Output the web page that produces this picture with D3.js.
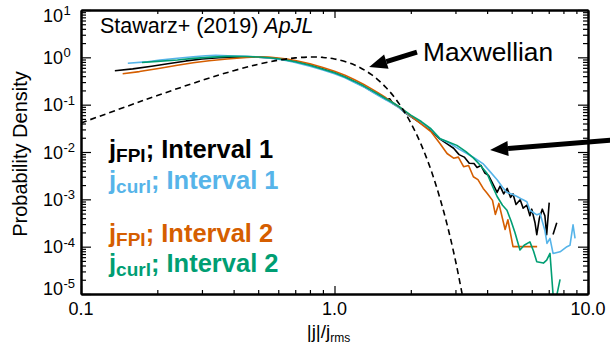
<!DOCTYPE html>
<html>
<head>
<meta charset="utf-8">
<script src="https://cdn.jsdelivr.net/npm/d3@7"></script>
<style>
  body { margin: 0; background: #fff; }
  svg { display: block; font-family: "Liberation Sans", Arial, Helvetica, sans-serif; }
</style>
</head>
<body>
<svg id="chart" width="610" height="349"></svg>
<script>
// ---- data ----
const xMajorTicks = [0.1, 1, 10];
const xTickLabels = ["0.1", "1.0", "10.0"];
const xMinorTicks = [0.2, 0.3, 0.4, 0.5, 0.6, 0.7, 0.8, 0.9, 2, 3, 4, 5, 6, 7, 8, 9];
const yExponents = [1, 0, -1, -2, -3, -4, -5];

// Maxwellian reference curve (dashed)
const maxwellX = [0.1, 0.15, 0.2, 0.3, 0.4, 0.5, 0.6, 0.7, 0.8, 0.9, 1.0, 1.2, 1.4, 1.6, 1.8, 2.0, 2.2, 2.4, 2.6, 2.8, 3.0, 3.2, 3.35];
const maxwellY = [0.041, 0.090, 0.156, 0.326, 0.522, 0.712, 0.870, 0.974, 1.016, 0.996, 0.925, 0.688, 0.430, 0.228, 0.104, 0.0411, 0.0141, 0.00422, 0.00110, 0.000254, 0.0000511, 0.0000090, 0.0000024];

// j_FPI; Interval 1
const fpi1X = [0.136, 0.16, 0.19, 0.22, 0.26, 0.3, 0.35, 0.4, 0.45, 0.5, 0.55, 0.6, 0.65, 0.7, 0.8, 0.9, 1.0, 1.1, 1.2, 1.3, 1.4, 1.5, 1.6, 1.65, 1.7, 1.8, 1.9, 2.0, 2.2, 2.4, 2.6, 2.8, 2.95, 3.1, 3.25, 3.4, 3.55, 3.65, 3.78, 3.92, 4.05, 4.2, 4.38, 4.5, 4.65, 4.8, 4.95, 5.06, 5.2, 5.4, 5.55, 5.74, 5.9, 6.0, 6.18, 6.28, 6.43, 6.6, 6.76, 6.87, 7.03, 7.15, 7.28, 7.53];
const fpi1Y = [0.52, 0.57, 0.65, 0.73, 0.84, 0.92, 0.98, 1.01, 1.02, 1.01, 0.98, 0.93, 0.87, 0.81, 0.68, 0.565, 0.47, 0.385, 0.305, 0.245, 0.195, 0.158, 0.128, 0.133, 0.106, 0.088, 0.067, 0.056, 0.040, 0.029, 0.019, 0.0145, 0.012, 0.0088, 0.0078, 0.0058, 0.0057, 0.0047, 0.0052, 0.0036, 0.0032, 0.0022, 0.0014, 0.0019, 0.0013, 0.0017, 0.0011, 0.0013, 0.00078, 0.00098, 0.00065, 0.00075, 0.00045, 0.00062, 0.00032, 0.00018, 0.0004, 0.00062, 0.00045, 0.00018, 0.00085, null, 0.00018, 0.00032];

// j_curl; Interval 1
const curl1X = [0.153, 0.18, 0.205, 0.24, 0.277, 0.31, 0.34, 0.38, 0.45, 0.5, 0.55, 0.6, 0.65, 0.7, 0.8, 0.9, 1.0, 1.1, 1.2, 1.3, 1.4, 1.5, 1.6, 1.7, 1.8, 1.9, 2.0, 2.2, 2.4, 2.61, 2.86, 3.1, 3.33, 3.6, 3.85, 4.1, 4.38, 4.6, 4.79, 5.0, 5.25, 5.5, 5.74, 5.9, 6.1, 6.29, 6.47, 6.76, 6.89, 7.08, 7.28, 7.76, 8.26, 8.49, 8.73, 8.89];
const curl1Y = [0.75, 0.80, 0.88, 0.96, 1.03, 1.08, 1.10, 1.08, 1.05, 1.01, 0.97, 0.91, 0.85, 0.78, 0.65, 0.54, 0.45, 0.37, 0.295, 0.24, 0.19, 0.152, 0.125, 0.104, 0.086, 0.068, 0.057, 0.041, 0.030, 0.019, 0.0151, 0.0115, 0.0093, 0.0072, 0.0057, 0.0039, 0.0026, 0.0018, 0.0014, 0.0013, 0.00115, 0.001, 0.00089, 0.00059, 0.00052, 0.00047, 0.0005, 0.00022, 0.000117, 0.00015, 0.000072, 0.000078, 0.0001, 0.000107, 0.00029, 0.00015];

// j_FPI; Interval 2
const fpi2X = [0.146, 0.17, 0.205, 0.24, 0.277, 0.32, 0.377, 0.45, 0.5, 0.55, 0.6, 0.65, 0.7, 0.8, 0.9, 1.0, 1.1, 1.2, 1.3, 1.4, 1.5, 1.6, 1.7, 1.8, 1.9, 2.0, 2.2, 2.4, 2.61, 2.78, 2.95, 3.08, 3.23, 3.38, 3.53, 3.68, 3.86, 4.0, 4.2, 4.31, 4.45, 4.71, 4.83, 5.06, 5.5, 6.3];
const fpi2Y = [0.45, 0.50, 0.59, 0.68, 0.77, 0.85, 0.92, 1.0, 1.02, 1.01, 0.97, 0.92, 0.86, 0.73, 0.61, 0.51, 0.42, 0.335, 0.27, 0.215, 0.172, 0.138, 0.11, 0.09, 0.072, 0.058, 0.039, 0.027, 0.015, 0.0093, 0.0074, 0.0078, 0.0049, 0.0052, 0.0030, 0.0026, 0.0017, 0.00135, 0.00095, 0.00048, 0.00082, 0.00023, 0.00037, 0.0001, 0.0001, 0.0001];

// j_curl; Interval 2
const curl2X = [0.174, 0.2, 0.24, 0.277, 0.33, 0.377, 0.45, 0.5, 0.55, 0.6, 0.65, 0.7, 0.8, 0.9, 1.0, 1.1, 1.2, 1.3, 1.4, 1.5, 1.6, 1.7, 1.8, 1.9, 2.0, 2.2, 2.4, 2.61, 2.8, 3.04, 3.3, 3.53, 3.75, 4.0, 4.2, 4.38, 4.6, 4.79, 4.98, 5.15, 5.39, 5.6, 5.9, 6.1, 6.28, 6.67, 6.87, 7.08, 7.35, 7.76];
const curl2Y = [0.78, 0.82, 0.88, 0.95, 1.01, 1.05, 1.04, 1.02, 0.98, 0.93, 0.87, 0.81, 0.68, 0.56, 0.47, 0.385, 0.31, 0.25, 0.20, 0.162, 0.132, 0.11, 0.091, 0.073, 0.060, 0.044, 0.031, 0.019, 0.0165, 0.0138, 0.0102, 0.0075, 0.0053, 0.0035, 0.0019, 0.00115, 0.00075, 0.00059, 0.00034, 0.0002, 0.000085, 0.000107, 0.000126, 0.00008, 0.000048, 0.000045, 0.000052, 0.000072, 0.000005, 0.0000204];

const seriesMain = ["j", "j", "j", "j"];
const seriesSub = ["FPI", "curl", "FPI", "curl"];
const seriesRest = ["; Interval 1", "; Interval 1", "; Interval 2", "; Interval 2"];
const seriesColors = ["#000000", "#56B4E9", "#D55E00", "#009E73"];

// ---- layout ----
const margin = { top: 10, right: 22, bottom: 55, left: 81 };
const W = 610, H = 349;
const svg = d3.select("#chart");

const x = d3.scaleLog().domain([0.1, 10]).range([margin.left, W - margin.right]);
const y = d3.scaleLog().domain([1e-5, 1e1]).range([H - margin.bottom, margin.top]);

const yMinorTicks = [];
yExponents.slice(1).forEach(e => { for (let k = 2; k <= 9; k++) yMinorTicks.push(k * Math.pow(10, e)); });
const yMajorTicks = yExponents.map(e => Math.pow(10, e));

svg.append("defs").append("clipPath").attr("id", "plotClip")
  .append("rect")
  .attr("x", x.range()[0]).attr("y", y.range()[1])
  .attr("width", x.range()[1] - x.range()[0])
  .attr("height", y.range()[0] - y.range()[1]);

// ---- curves ----
const line = d3.line()
  .defined(d => d[1] != null)
  .x(d => x(d[0]))
  .y(d => y(d[1]));

const plot = svg.append("g").attr("clip-path", "url(#plotClip)");

const seriesData = [
  d3.zip(fpi1X, fpi1Y),
  d3.zip(curl1X, curl1Y),
  d3.zip(fpi2X, fpi2Y),
  d3.zip(curl2X, curl2Y)
];

plot.selectAll(".series")
  .data(seriesData)
  .enter().append("path")
  .attr("class", "series")
  .attr("d", line)
  .attr("fill", "none")
  .attr("stroke", (d, i) => seriesColors[i])
  .attr("stroke-width", 1.6)
  .attr("stroke-linejoin", "round");

plot.append("path")
  .datum(d3.zip(maxwellX, maxwellY))
  .attr("d", line.curve(d3.curveCatmullRom))
  .attr("fill", "none")
  .attr("stroke", "#000")
  .attr("stroke-width", 1.6)
  .attr("stroke-dasharray", "6,4");

// ---- axes (ticks point inward on all four sides) ----
function styleAxis(g) {
  g.select(".domain").attr("stroke-width", 2);
  g.selectAll(".tick line").attr("stroke-width", 1.2);
  g.selectAll(".tick text").remove();
}

const xB = H - margin.bottom, xT = margin.top, yL = margin.left, yR = W - margin.right;

svg.append("g").attr("transform", `translate(0,${xB})`)
  .call(d3.axisBottom(x).tickValues(xMinorTicks).tickSize(-4).tickSizeOuter(0).tickFormat("")).call(styleAxis);
svg.append("g").attr("transform", `translate(0,${xB})`)
  .call(d3.axisBottom(x).tickValues(xMajorTicks).tickSize(-8).tickSizeOuter(0).tickFormat("")).call(styleAxis);
svg.append("g").attr("transform", `translate(0,${xT})`)
  .call(d3.axisTop(x).tickValues(xMinorTicks).tickSize(-4).tickSizeOuter(0).tickFormat("")).call(styleAxis);
svg.append("g").attr("transform", `translate(0,${xT})`)
  .call(d3.axisTop(x).tickValues(xMajorTicks).tickSize(-8).tickSizeOuter(0).tickFormat("")).call(styleAxis);

svg.append("g").attr("transform", `translate(${yL},0)`)
  .call(d3.axisLeft(y).tickValues(yMinorTicks).tickSize(-5).tickSizeOuter(0).tickFormat("")).call(styleAxis);
svg.append("g").attr("transform", `translate(${yL},0)`)
  .call(d3.axisLeft(y).tickValues(yMajorTicks).tickSize(-10).tickSizeOuter(0).tickFormat("")).call(styleAxis);
svg.append("g").attr("transform", `translate(${yR},0)`)
  .call(d3.axisRight(y).tickValues(yMinorTicks).tickSize(-5).tickSizeOuter(0).tickFormat("")).call(styleAxis);
svg.append("g").attr("transform", `translate(${yR},0)`)
  .call(d3.axisRight(y).tickValues(yMajorTicks).tickSize(-10).tickSizeOuter(0).tickFormat("")).call(styleAxis);

// x tick labels
svg.append("g").selectAll("text")
  .data(xMajorTicks)
  .enter().append("text")
  .attr("x", d => x(d))
  .attr("y", xB + 21)
  .attr("text-anchor", "middle")
  .attr("font-size", 18)
  .text((d, i) => xTickLabels[i]);

// y tick labels: 10^n, kept inside the frame height like the original
const yLab = svg.append("g").selectAll("g")
  .data(yExponents)
  .enter().append("g")
  .attr("transform", d => {
    const cy = Math.min(Math.max(y(Math.pow(10, d)), margin.top + 5), xB - 6);
    return `translate(0,${cy})`;
  });
yLab.append("text")
  .attr("x", 63).attr("y", 6.5)
  .attr("text-anchor", "end")
  .attr("font-size", 18)
  .text("10");
yLab.append("text")
  .attr("x", 63.5).attr("y", 0)
  .attr("font-size", 13)
  .text(d => String(d));

// axis titles
const xTitle = svg.append("text")
  .attr("x", (x.range()[0] + x.range()[1]) / 2 - 6)
  .attr("y", 338)
  .attr("text-anchor", "middle")
  .attr("font-size", 19);
xTitle.append("tspan").text("|j|/j");
xTitle.append("tspan").attr("font-size", 12).attr("dy", 4).text("rms");

svg.append("text")
  .attr("transform", `translate(27,${(y.range()[0] + y.range()[1]) / 2 + 2}) rotate(-90)`)
  .attr("text-anchor", "middle")
  .attr("font-size", 20)
  .text("Probability Density");

// ---- annotations ----
const cite = svg.append("text").attr("x", 100).attr("y", 32.5).attr("font-size", 21.5);
cite.append("tspan").text("Stawarz+ (2019) ");
cite.append("tspan").attr("font-style", "italic").text("ApJL");

svg.append("text").attr("x", 423).attr("y", 60.5).attr("font-size", 26.3).text("Maxwellian");

// arrows given in data coordinates: [tailX, tailY, tipX, tipY]
const arrows = [
  [2.115, 1.29, 1.37, 0.624],
  [12.4, 0.0179, 4.11, 0.011]
];
const headLen = 18, headHalf = 7.5;
arrows.forEach(a => {
  const x0 = x(a[0]), y0 = y(a[1]), x1 = x(a[2]), y1 = y(a[3]);
  const ang = Math.atan2(y1 - y0, x1 - x0);
  const bx = x1 - headLen * Math.cos(ang), by = y1 - headLen * Math.sin(ang);
  svg.append("line")
    .attr("x1", x0).attr("y1", y0).attr("x2", bx).attr("y2", by)
    .attr("stroke", "#000").attr("stroke-width", 5);
  const px = -Math.sin(ang) * headHalf, py = Math.cos(ang) * headHalf;
  svg.append("path")
    .attr("d", `M${x1},${y1}L${bx + px},${by + py}L${bx - px},${by - py}Z`)
    .attr("fill", "#000");
});

// legend
const legendBaselines = [158, 189, 242, 272];
seriesMain.forEach((m, i) => {
  const t = svg.append("text")
    .attr("x", 109).attr("y", legendBaselines[i])
    .attr("font-size", 25.5).attr("font-weight", "bold")
    .attr("fill", seriesColors[i]);
  t.append("tspan").text(m);
  t.append("tspan").attr("font-size", 19).attr("dy", 4).text(seriesSub[i]);
  t.append("tspan").attr("dy", -4).text(seriesRest[i]);
});
</script>
</body>
</html>
